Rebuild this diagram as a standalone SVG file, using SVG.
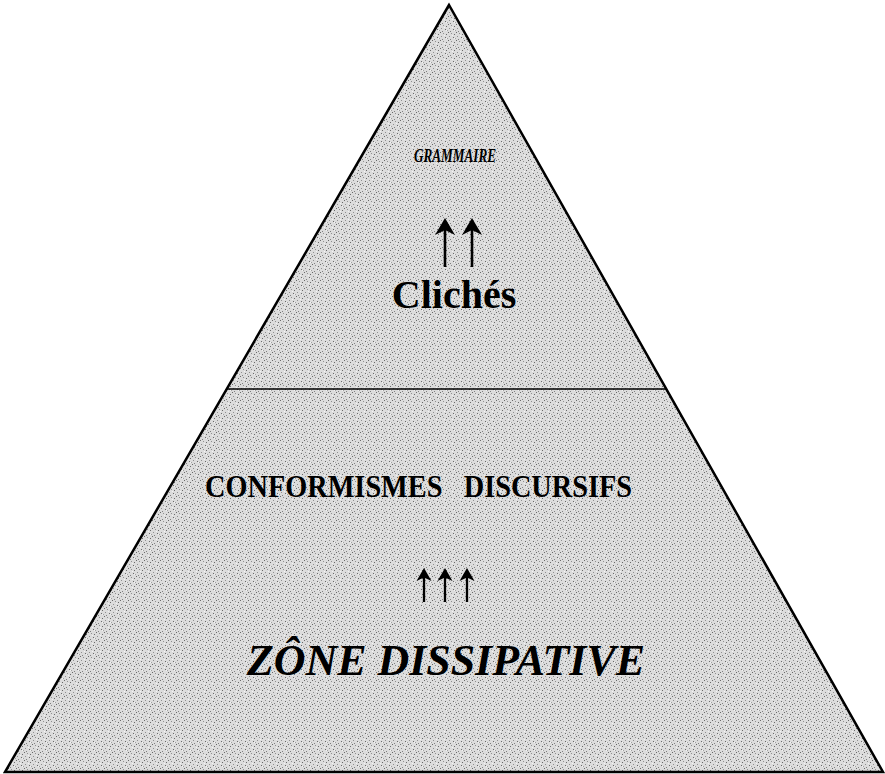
<svg xmlns="http://www.w3.org/2000/svg" width="885" height="774" viewBox="0 0 885 774">
  <defs>
    <pattern id="stipple" width="8" height="8" patternUnits="userSpaceOnUse">
      <rect width="8" height="8" fill="#dcdcdc"/>
      <rect x="0" y="0" width="1" height="1" fill="#6a6a6a"/>
      <rect x="3" y="1" width="1" height="1" fill="#909090"/>
      <rect x="6" y="2" width="1" height="1" fill="#6a6a6a"/>
      <rect x="1" y="4" width="1" height="1" fill="#909090"/>
      <rect x="5" y="5" width="1" height="1" fill="#6a6a6a"/>
      <rect x="2" y="7" width="1" height="1" fill="#808080"/>
      <rect x="7" y="6" width="1" height="1" fill="#a0a0a0"/>
      <rect x="4" y="3" width="1" height="1" fill="#f4f4f4"/>
      <rect x="6" y="6" width="1" height="1" fill="#f4f4f4"/>
    </pattern>
    <g id="arrow-big">
      <line x1="0" y1="10" x2="0" y2="49" stroke="#000" stroke-width="2.6"/>
      <path d="M0,0 L10,17 L0,12 L-10,17 Z" fill="#000"/>
    </g>
    <g id="arrow-small">
      <line x1="0" y1="8" x2="0" y2="34" stroke="#000" stroke-width="2.3"/>
      <path d="M0,0 L7.5,13 L0,9.5 L-7.5,13 Z" fill="#000"/>
    </g>
  </defs>
  <style>
    .serif { font-family: "Liberation Serif", "Times New Roman", serif; fill: #000; }
    .b { font-weight: bold; }
    .bi { font-weight: bold; font-style: italic; }
    .edge { fill: none; stroke: #000; }
  </style>
  <rect width="885" height="774" fill="#fff"/>

  <g id="pyramid">
    <polygon points="449,5 5,772 883,772" fill="url(#stipple)" stroke="#000" stroke-width="2.5" stroke-linejoin="miter"/>
  </g>

  <g id="connectors">
    <line class="edge" x1="227" y1="389" x2="666" y2="389" stroke-width="1.6"/>
    <use href="#arrow-big" x="445" y="218"/>
    <use href="#arrow-big" x="472" y="218"/>
    <use href="#arrow-small" x="424" y="568"/>
    <use href="#arrow-small" x="445" y="568"/>
    <use href="#arrow-small" x="467" y="568"/>
  </g>

  <g id="top-level">
    <text class="serif bi" x="414" y="162" font-size="18" textLength="82" lengthAdjust="spacingAndGlyphs">GRAMMAIRE</text>
    <text class="serif b" x="454" y="308" font-size="40" text-anchor="middle">Clichés</text>
  </g>

  <g id="bottom-level">
    <text class="serif b" x="205" y="497" font-size="32" textLength="427" lengthAdjust="spacingAndGlyphs" style="white-space:pre">CONFORMISMES   DISCURSIFS</text>
    <text class="serif bi" x="247" y="675" font-size="45" textLength="398" lengthAdjust="spacingAndGlyphs">ZÔNE DISSIPATIVE</text>
  </g>
</svg>
